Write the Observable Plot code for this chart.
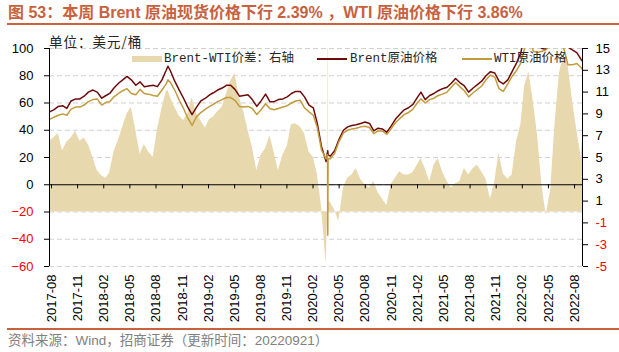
<!DOCTYPE html>
<html>
<head>
<meta charset="utf-8">
<script src="https://cdn.jsdelivr.net/npm/d3@7"></script>
<script src="https://cdn.jsdelivr.net/npm/@observablehq/plot@0.6"></script>
<style>
  html, body { margin: 0; padding: 0; background: #fff; }
  #wrap { position: relative; width: 619px; height: 352px; overflow: hidden; background: #fff; }
  #chart { position: absolute; left: 0; top: 0; }
  .abs { position: absolute; white-space: nowrap; }
  #title { left: 8px; top: 3px; font: bold 16px "Liberation Sans", "Noto Sans CJK SC", sans-serif; color: #C8613E; line-height: 20px; }
  #topline { left: 7px; top: 23px; width: 612px; height: 0; border-top: 2px solid #C8613E; }
  #botline { left: 7px; top: 328px; width: 612px; height: 0; border-top: 2px solid #C8613E; }
  #source { left: 8px; top: 332px; font: 13.5px "Liberation Sans", "Noto Sans CJK SC", sans-serif; color: #808080; line-height: 18px; }
  #unit { left: 49px; top: 33px; font: 13.5px "Noto Sans CJK SC", sans-serif; color: #262626; line-height: 16px; letter-spacing: 1px; }
  .lg { font: 12.5px "Liberation Mono", "Noto Sans CJK SC", monospace; color: #262626; line-height: 16px; top: 51px; }
</style>
</head>
<body>
<div id="wrap">
  <div id="chart"></div>
  <div class="abs" id="title"></div>
  <div class="abs" id="topline"></div>
  <div class="abs" id="unit"></div>
  <div class="abs" id="legend"></div>
  <div class="abs" id="botline"></div>
  <div class="abs" id="source"></div>
</div>
<script>
// ---------------- data ----------------
const titleText = "图 53：本周 Brent 原油现货价格下行 2.39% ，WTI 原油价格下行 3.86%";
const sourceText = "资料来源：Wind，招商证券（更新时间：20220921）";
const unitText = "单位：美元/桶";
const seriesNames = ["Brent-WTI价差：右轴", "Brent原油价格", "WTI原油价格"];

const dates = [
  "2017-08-01","2017-08-16","2017-09-01","2017-09-16","2017-10-01","2017-10-16","2017-11-01","2017-11-16","2017-12-01","2017-12-16",
  "2018-01-01","2018-01-16","2018-02-01","2018-02-16","2018-03-01","2018-03-16","2018-04-01","2018-04-16","2018-05-01","2018-05-16","2018-06-01","2018-06-16",
  "2018-07-01","2018-07-16","2018-08-01","2018-08-16","2018-09-01","2018-09-16","2018-09-22","2018-10-01","2018-10-16","2018-11-01","2018-11-16","2018-12-01","2018-12-16",
  "2019-01-01","2019-01-16","2019-02-01","2019-02-16","2019-03-01","2019-03-16","2019-04-01","2019-04-16","2019-05-01","2019-05-16","2019-06-01","2019-06-16",
  "2019-07-01","2019-07-16","2019-08-01","2019-08-16","2019-09-01","2019-09-16","2019-10-01","2019-10-16","2019-11-01","2019-11-16","2019-12-01","2019-12-16",
  "2020-01-01","2020-01-16","2020-02-01","2020-02-16","2020-03-01","2020-03-16","2020-04-01","2020-04-06","2020-04-07","2020-04-08","2020-04-16","2020-05-01","2020-05-16","2020-06-01","2020-06-16",
  "2020-07-01","2020-07-16","2020-08-01","2020-08-16","2020-09-01","2020-09-16","2020-10-01","2020-10-16","2020-11-01","2020-11-16","2020-12-01","2020-12-16",
  "2021-01-01","2021-01-16","2021-02-01","2021-02-16","2021-03-01","2021-03-16","2021-04-01","2021-04-16","2021-05-01","2021-05-16","2021-06-01","2021-06-16",
  "2021-07-01","2021-07-16","2021-08-01","2021-08-16","2021-09-01","2021-09-16","2021-10-01","2021-10-16","2021-11-01","2021-11-16","2021-12-01","2021-12-16",
  "2022-01-01","2022-01-16","2022-02-01","2022-02-16","2022-03-01","2022-03-16","2022-04-01","2022-04-16","2022-05-01","2022-05-16","2022-06-01","2022-06-16",
  "2022-07-01","2022-07-16","2022-08-01","2022-08-16","2022-09-01","2022-09-16","2022-09-21"
];

const brent = [
  53.5, 55, 57.5, 58, 56, 61.5, 63, 63, 65, 68,
  69.5, 68, 63.5, 65.5, 67, 71, 74.5, 77, 79.5, 77, 73, 75.5,
  72, 72.5, 73, 72, 77, 84, 87, 83.5, 76, 69.5, 63.5, 57, 51.5,
  57, 61.5, 63.5, 66, 67.5, 69.5, 71, 73, 73, 70, 65, 65.5,
  66, 62.5, 57.5, 61.5, 66.5, 61, 61, 62.5, 63, 64.5, 67, 68.5,
  68.5, 64.5, 58.5, 56.5, 45, 28, 17, 24, 25, 22, 21, 25, 33, 40, 42.5,
  43.5, 44, 45, 46, 45, 39.5, 41.5, 41, 38.5, 43, 48, 51.5,
  55, 56.5, 59, 64, 68, 62.5, 65.5, 67, 69, 70.5, 71.5, 74.5,
  78, 75, 72.5, 68, 71, 73.5, 76, 80, 83, 82, 76, 74,
  77, 83, 89.5, 97, 112, 122, 108, 103, 100, 99.5, 106, 120,
  125, 115, 101, 99, 97, 92, 90.5
];

const wti = [
  48, 49.5, 51, 52, 51, 55.5, 57, 57, 58.5, 61,
  62.5, 63, 58.5, 60.5, 61, 64.5, 67, 69, 70.5, 67, 66, 70,
  67, 66.5, 65.5, 65, 69.5, 74, 77, 75, 69.5, 62, 56, 49, 43.5,
  50, 53, 55.5, 57.5, 59, 61, 62.5, 64, 64, 62, 57.5, 57,
  57.5, 56, 51.5, 55, 59.5, 56, 55, 56, 57, 58, 60, 61.5,
  62, 56.5, 53.5, 51, 42, 25.5, 19, 22, -37, 19, 19, 23, 31.5, 38, 40,
  41, 41.5, 42.5, 43, 42, 37.5, 39.5, 39.5, 37, 41, 45.5, 48.5,
  51.5, 53, 55.5, 60, 63, 60, 62.5, 63.5, 65.5, 66.5, 68, 71.5,
  75, 72, 69, 64.5, 67.5, 70, 72.5, 77, 80.5, 79, 70.5, 68.5,
  74, 79.5, 84, 89.5, 100, 110, 98, 97, 98, 99, 104, 112,
  112, 101, 88, 88, 89, 86, 84.5
];

// Brent-WTI spread, right axis
const spread = [
  6.5, 6.8, 7.2, 5.6, 6.4, 6.8, 7.4, 6.5, 6.8, 6.2,
  5.0, 3.8, 3.3, 3.1, 3.6, 5.5, 6.6, 7.8, 9.0, 9.6, 7.5, 5.3,
  6.2, 5.5, 5.0, 7.5, 9.5, 11.0, 11.2, 10.5, 9.6, 8.8, 8.4, 9.0, 10.5,
  9.0, 8.4, 7.7, 8.5, 8.7, 9.2, 9.6, 10.8, 12.0, 12.7, 10.5, 9.2,
  7.5, 6.0, 3.8, 5.2, 5.8, 7.0, 5.5, 3.8, 5.2, 6.0, 8.0, 8.1,
  7.8, 7.2, 5.5, 5.0, 3.5, 0.5, -4.8, -1.0, 62, 1.0, 0.9, 0.2, -0.9, 2.2, 3.1,
  3.4, 4.0, 3.0, 2.5, 2.2, 2.8, 1.8, 1.2, 0.6, 2.5, 3.1, 3.7,
  3.4, 3.4, 3.6, 4.3, 4.9, 4.0, 2.8, 4.3, 4.9, 3.7, 2.8, 2.2,
  2.6, 2.8, 4.0, 3.4, 4.0, 4.3, 3.7, 3.0, 1.2, 2.8, 5.4, 3.5,
  3.0, 3.4, 6.5, 8.0, 11.5, 12.9, 10.1, 7.0, 2.5, -0.3, 2.0, 8.0,
  12.6, 14.4, 13.5, 10.4, 7.5, 5.0, 6.5
];

const xTickLabels = ["2017-08","2017-11","2018-02","2018-05","2018-08","2018-11","2019-02","2019-05","2019-08","2019-11",
  "2020-02","2020-05","2020-08","2020-11","2021-02","2021-05","2021-08","2021-11","2022-02","2022-05","2022-08"];
const leftTicks = [-60, -40, -20, 0, 20, 40, 60, 80, 100];
const rightTicks = [-5, -3, -1, 1, 3, 5, 7, 9, 11, 13, 15];

// ---------------- build ----------------
const parse = d3.utcParse("%Y-%m-%d");
const rows = dates.map((d, i) => ({date: parse(d), brent: brent[i], wti: wti[i], spread: spread[i]}));
const xDomain = [parse("2017-08-01"), parse("2022-09-21")];
const tickStart = parse("2017-08-08");
const tickStepDays = 92.1;
const tickDates = xTickLabels.map((s, k) => d3.utcDay.offset(tickStart, Math.round(k * tickStepDays)));
const labelOf = new Map(tickDates.map((d, k) => [+d, xTickLabels[k]]));
// right axis (spread) -5..15 maps onto left axis -60..100
const toLeft = s => 8 * s - 20;
const fromLeft = v => (v + 20) / 8;
const rightTickPos = rightTicks.map(toLeft);

const colors = {area: "#E8D8AE", brent: "#6E0A0A", wti: "#C39A3C", grid: "#D0D0D0", neg: "#FF0000"};

const chart = Plot.plot({
  width: 619, height: 352,
  marginTop: 48, marginBottom: 86, marginLeft: 49, marginRight: 37,
  x: {type: "utc", domain: xDomain, axis: null},
  y: {domain: [-60, 100], axis: null},
  style: {fontFamily: "'Liberation Sans', Arial, sans-serif", fontSize: "13px", background: "transparent", color: "#000"},
  marks: [
    Plot.gridY({ticks: leftTicks, stroke: colors.grid, strokeOpacity: 1, strokeDasharray: "5,3"}),
    Plot.areaY(rows, {x: "date", y1: () => toLeft(0), y2: d => toLeft(d.spread), fill: colors.area, clip: true}),
    Plot.ruleY([0], {stroke: "#000", strokeWidth: 1}),
    Plot.ruleX(tickDates, {x: d => d, y1: 0, y2: -3, stroke: "#000"}),
    Plot.line(rows, {x: "date", y: "brent", stroke: colors.brent, strokeWidth: 1.5, clip: true}),
    Plot.line(rows, {x: "date", y: "wti", stroke: colors.wti, strokeWidth: 1.5, clip: true}),
    Plot.ruleX([xDomain[0]], {stroke: "#000"}),
    Plot.ruleX([xDomain[1]], {stroke: "#000"}),
    // left axis
    Plot.axisY({anchor: "left", ticks: leftTicks, tickSize: 5, tickFormat: () => "", color: "#000"}),
    Plot.axisY({anchor: "left", ticks: leftTicks.filter(v => v >= 0), tickSize: 0, tickPadding: 16, color: "#000"}),
    Plot.axisY({anchor: "left", ticks: leftTicks.filter(v => v < 0), tickSize: 0, tickPadding: 16, color: colors.neg}),
    // right axis
    Plot.axisY({anchor: "right", ticks: rightTickPos, tickSize: 5, tickFormat: () => "", color: "#000"}),
    Plot.axisY({anchor: "right", ticks: rightTickPos.filter(v => fromLeft(v) >= 0), tickSize: 0, tickPadding: 13, tickFormat: v => String(fromLeft(v)), color: "#000"}),
    Plot.axisY({anchor: "right", ticks: rightTickPos.filter(v => fromLeft(v) < 0), tickSize: 0, tickPadding: 13, tickFormat: v => String(fromLeft(v)), color: colors.neg}),
    // x labels
    Plot.axisX({anchor: "bottom", ticks: tickDates, tickSize: 0, tickPadding: 8, tickRotate: -90, tickFormat: d => labelOf.get(+d), color: "#000"})
  ]
});
document.getElementById("chart").appendChild(chart);

document.getElementById("title").textContent = titleText;
document.getElementById("source").textContent = sourceText;
document.getElementById("unit").textContent = unitText;

// legend (HTML, overlaid)
const legend = document.getElementById("legend");
const legendItems = [
  {name: seriesNames[0], type: "area", color: colors.area, sx: 132, tx: 164},
  {name: seriesNames[1], type: "line", color: colors.brent, sx: 317, tx: 350},
  {name: seriesNames[2], type: "line", color: colors.wti, sx: 462, tx: 494}
];
for (const it of legendItems) {
  const sw = document.createElement("div");
  sw.className = "abs";
  sw.style.left = it.sx + "px";
  sw.style.width = "30px";
  if (it.type === "area") { sw.style.top = "56px"; sw.style.height = "6px"; sw.style.background = it.color; }
  else { sw.style.top = "58px"; sw.style.height = "2px"; sw.style.background = it.color; }
  legend.appendChild(sw);
  const t = document.createElement("div");
  t.className = "abs lg";
  t.style.left = it.tx + "px";
  t.textContent = it.name;
  legend.appendChild(t);
}
</script>
</body>
</html>
